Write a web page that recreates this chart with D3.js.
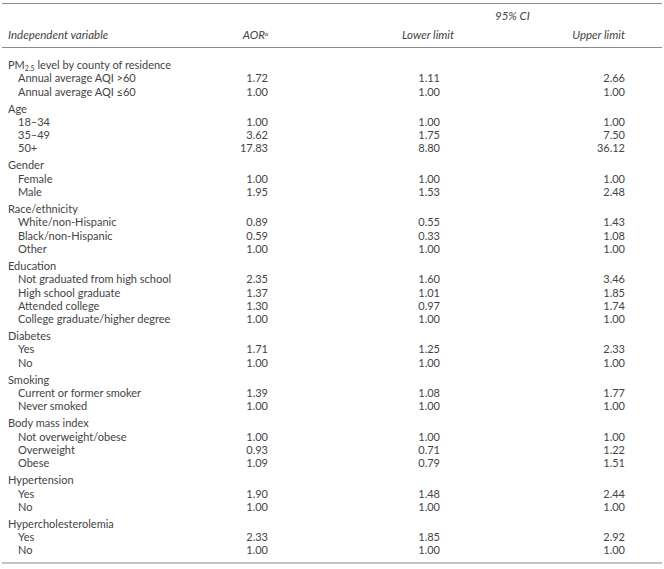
<!DOCTYPE html>
<html>
<head>
<meta charset="utf-8">
<script src="https://cdn.jsdelivr.net/npm/d3@7"></script>
<style>
  body { margin: 0; background: #fff; }
  text { font-family: Lato, "Open Sans", sans-serif; font-size: 11px; fill: #444; }
  .hdr { font-style: italic; font-size: 11.5px; }
</style>
</head>
<body>
<svg id="svg1" width="664" height="569"></svg>
<script>
// table content
var groups = ["PM2.5 level by county of residence", "Age", "Gender", "Race/ethnicity", "Education",
  "Diabetes", "Smoking", "Body mass index", "Hypertension", "Hypercholesterolemia"];
var subLabels = [
  ["Annual average AQI >60", "Annual average AQI \u226460"],
  ["18\u201334", "35\u201349", "50+"],
  ["Female", "Male"],
  ["White/non-Hispanic", "Black/non-Hispanic", "Other"],
  ["Not graduated from high school", "High school graduate", "Attended college", "College graduate/higher degree"],
  ["Yes", "No"],
  ["Current or former smoker", "Never smoked"],
  ["Not overweight/obese", "Overweight", "Obese"],
  ["Yes", "No"],
  ["Yes", "No"]
];
var aor = [[1.72, 1.00], [1.00, 3.62, 17.83], [1.00, 1.95], [0.89, 0.59, 1.00], [2.35, 1.37, 1.30, 1.00],
  [1.71, 1.00], [1.39, 1.00], [1.00, 0.93, 1.09], [1.90, 1.00], [2.33, 1.00]];
var lower = [[1.11, 1.00], [1.00, 1.75, 8.80], [1.00, 1.53], [0.55, 0.33, 1.00], [1.60, 1.01, 0.97, 1.00],
  [1.25, 1.00], [1.08, 1.00], [1.00, 0.71, 0.79], [1.48, 1.00], [1.85, 1.00]];
var upper = [[2.66, 1.00], [1.00, 7.50, 36.12], [1.00, 2.48], [1.43, 1.08, 1.00], [3.46, 1.85, 1.74, 1.00],
  [2.33, 1.00], [1.77, 1.00], [1.00, 1.22, 1.51], [2.44, 1.00], [2.92, 1.00]];

var svg = d3.select("#svg1"),
  fmt = d3.format(".2f"),
  rowStep = 13.3, groupStep = 17, top0 = 65;

// flatten into lines, each with its y
var lines = [], y = top0;
groups.forEach(function(g, i) {
  if (i > 0) y += groupStep;
  lines.push({type: "group", label: g, y: y});
  subLabels[i].forEach(function(s, j) {
    y += rowStep;
    lines.push({type: "sub", label: s, y: y, vals: [aor[i][j], lower[i][j], upper[i][j]]});
  });
});

var colRight = d3.scaleOrdinal().domain(["aor", "lower", "upper"]).range([268, 440, 625]);

// rules
var rules = [3.5, 47.5, 563];
svg.selectAll("line.rule").data(rules).enter().append("line")
  .attr("class", "rule")
  .attr("x1", 2).attr("x2", 662)
  .attr("y1", function(d) { return d; }).attr("y2", function(d) { return d; })
  .attr("stroke", "#8a8a8a").attr("stroke-width", 1.1);

// header
svg.append("text").attr("class", "hdr").attr("x", 495).attr("y", 19.5).text("95% CI");
svg.append("text").attr("class", "hdr").attr("x", 8).attr("y", 38.5).text("Independent variable");
var aorHdr = svg.append("text").attr("class", "hdr").attr("x", 268).attr("y", 38.5).attr("text-anchor", "end");
aorHdr.append("tspan").text("AOR");
aorHdr.append("tspan").attr("font-size", "6px").attr("dy", -3).text("a");
svg.append("text").attr("class", "hdr").attr("x", 402).attr("y", 38.5).text("Lower limit");
svg.append("text").attr("class", "hdr").attr("x", 625).attr("y", 38.5).attr("text-anchor", "end").text("Upper limit");

// body
var row = svg.selectAll("g.row").data(lines).enter().append("g")
  .attr("class", "row")
  .attr("transform", function(d) { return "translate(0," + (d.y + 3.9) + ")"; });

row.append("text")
  .attr("x", function(d) { return d.type === "group" ? 8 : 18; })
  .each(function(d) {
    var t = d3.select(this);
    if (d.label.indexOf("PM2.5") === 0) {
      t.append("tspan").text("PM");
      t.append("tspan").attr("font-size", "7px").attr("dy", 2).text("2.5");
      t.append("tspan").attr("dy", -2).text(d.label.slice(5));
    } else {
      t.text(d.label);
    }
  });

row.filter(function(d) { return d.type === "sub"; })
  .selectAll("text.val")
  .data(function(d) { return [["aor", d.vals[0]], ["lower", d.vals[1]], ["upper", d.vals[2]]]; })
  .enter().append("text")
  .attr("class", "val")
  .attr("x", function(d) { return colRight(d[0]); })
  .attr("text-anchor", "end")
  .text(function(d) { return fmt(d[1]); });
</script>
</body>
</html>
